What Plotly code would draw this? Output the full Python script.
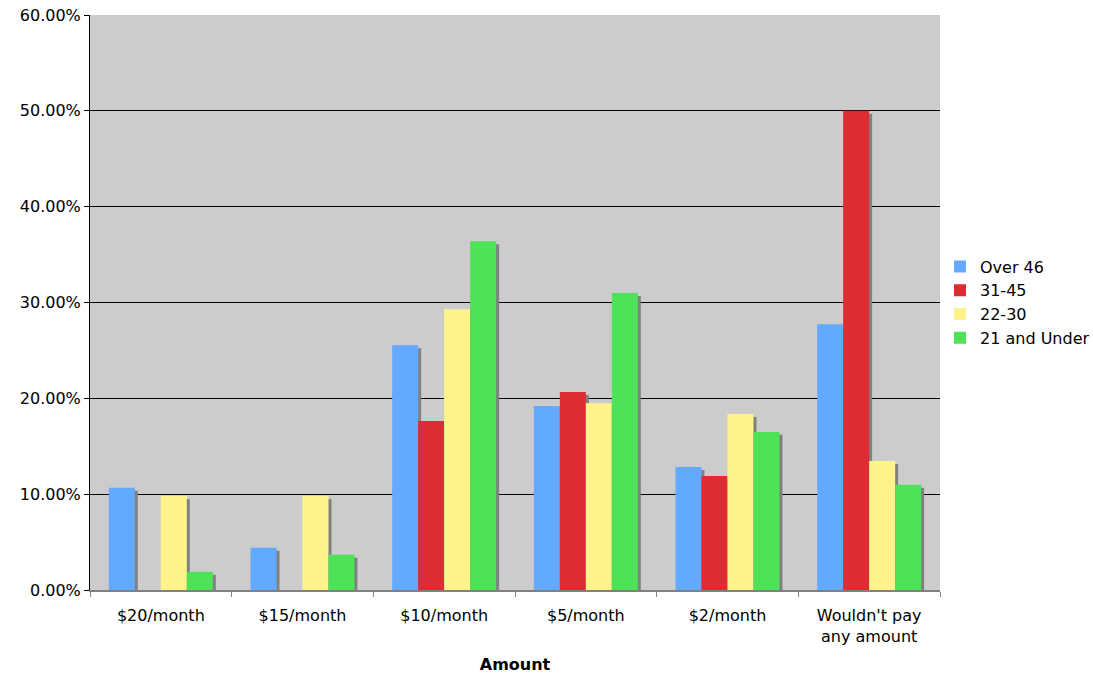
import plotly.graph_objects as go

categories = ["$20/month", "$15/month", "$10/month", "$5/month", "$2/month", "Wouldn't pay<br>any amount"]
series_names = ["Over 46", "31-45", "22-30", "21 and Under"]
over_46 = [10.66, 4.40, 25.55, 19.20, 12.84, 27.74]
age_31_45 = [0.0, 0.0, 17.64, 20.66, 11.90, 50.00]
age_22_30 = [9.82, 9.82, 29.30, 19.50, 18.36, 13.47]
under_21 = [1.90, 3.68, 36.40, 31.00, 16.50, 10.97]
y_ticks = [0, 10, 20, 30, 40, 50, 60]

series_values = [over_46, age_31_45, age_22_30, under_21]
colors = ["#62A9FF", "#DD2C33", "#FFF48C", "#4DE257"]

bar_w = 0.1835
start = -0.367
shadow_dx = 0.021
shadow_dy = 0.3125

fig = go.Figure()
# shadows first (drawn behind)
for i, vals in enumerate(series_values):
    fig.add_trace(go.Bar(
        x=categories, y=vals, base=[-shadow_dy] * len(vals),
        offset=start + i * bar_w + shadow_dx, width=bar_w,
        marker=dict(color="#808080", line=dict(width=0)),
        showlegend=False, hoverinfo="skip",
    ))
for i, (name, vals) in enumerate(zip(series_names, series_values)):
    fig.add_trace(go.Bar(
        x=categories, y=vals, name=name,
        offset=start + i * bar_w, width=bar_w,
        marker=dict(color=colors[i], line=dict(width=0)),
    ))

font_family = "DejaVu Sans, Verdana, sans-serif"
fig.update_layout(
    barmode="overlay",
    width=1093, height=674,
    margin=dict(l=90, r=153, t=15, b=84, autoexpand=False),
    paper_bgcolor="white",
    plot_bgcolor="#CCCCCC",
    font=dict(family=font_family, size=16, color="black"),
    legend=dict(x=1.0, xanchor="left", y=0.5, yanchor="middle",
                font=dict(size=16, color="black"), traceorder="normal",
                itemwidth=30, tracegroupgap=0),
    xaxis=dict(
        type="category",
        range=[-0.5, 5.5],
        showline=True, linecolor="#808080", linewidth=2,
        ticks="outside", tickson="boundaries", ticklen=5, tickcolor="#808080",
        ticklabelstandoff=10,
        tickfont=dict(size=16, color="black"),
        title=dict(text="<b>Amount</b>", font=dict(size=16, color="black"), standoff=14),
        showgrid=False,
    ),
    yaxis=dict(
        range=[0, 60],
        tickvals=y_ticks,
        ticktext=[f"{v:.2f}%" for v in y_ticks],
        showline=True, linecolor="black", linewidth=1,
        ticks="outside", ticklen=5, tickcolor="black",
        showgrid=True, gridcolor="black", gridwidth=1,
        zeroline=False,
        tickfont=dict(size=16, color="black"),
    ),
)

fig.write_html("out.html")
